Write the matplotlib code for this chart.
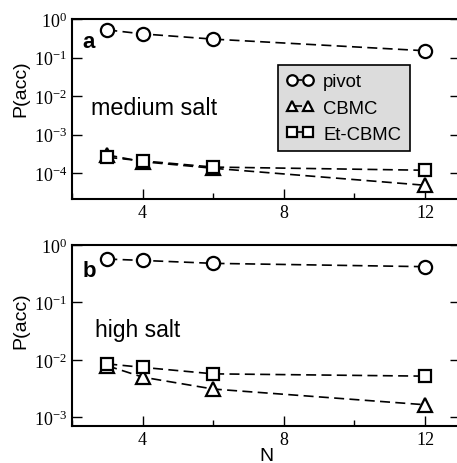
import numpy as np
import matplotlib
matplotlib.use('Agg')
import matplotlib.pyplot as plt

# chain length N
n_vals = [3, 4, 6, 12]

# panel a: medium salt
pivot_med = [0.52, 0.41, 0.30, 0.15]
cbmc_med = [3.0e-4, 2.0e-4, 1.35e-4, 4.9e-5]
etcbmc_med = [2.6e-4, 2.1e-4, 1.45e-4, 1.2e-4]

# panel b: high salt
pivot_high = [0.57, 0.54, 0.48, 0.42]
cbmc_high = [7.9e-3, 5.0e-3, 3.1e-3, 1.65e-3]
etcbmc_high = [8.5e-3, 7.4e-3, 5.7e-3, 5.2e-3]

series_names = ['pivot', 'CBMC', 'Et-CBMC']
series_markers = ['o', '^', 's']

serif = 'Liberation Serif'
sans = 'Liberation Sans'
plt.rcParams['mathtext.fontset'] = 'stix'

fig = plt.figure(figsize=(4.57, 4.64), dpi=100)
ax_a = fig.add_axes([0.1575, 0.569, 0.8497, 0.388])
ax_b = fig.add_axes([0.1575, 0.0787, 0.8497, 0.391])


def draw_panel(ax, data, ylim, yticks):
    for vals, name, mk in zip(data, series_names, series_markers):
        ax.plot(n_vals, vals, linestyle='--', color='black', lw=1.2,
                marker=mk, markersize=9.5 if mk != 's' else 9,
                markerfacecolor='white', markeredgecolor='black',
                markeredgewidth=1.6, label=name, dashes=(6, 3.2))
    ax.set_yscale('log')
    ax.set_xlim(2, 13)
    ax.set_ylim(*ylim)
    ax.set_yticks(yticks)
    ax.yaxis.set_minor_locator(matplotlib.ticker.NullLocator())
    ax.set_xticks([4, 8, 12])
    ax.set_xticks([2, 6, 10], minor=True)
    ax.tick_params(which='both', direction='in', right=True, top=False,
                   labelsize=13, width=1.0)
    ax.tick_params(which='major', length=7)
    ax.tick_params(which='minor', length=4)
    for lab in ax.get_xticklabels() + ax.get_yticklabels():
        lab.set_fontfamily(serif)
    for sp in ax.spines.values():
        sp.set_linewidth(1.5)
    ax.set_ylabel('P(acc)', fontfamily=sans, fontsize=14)


draw_panel(ax_a, [pivot_med, cbmc_med, etcbmc_med], (2.16e-5, 1.0),
           [1e-4, 1e-3, 1e-2, 1e-1, 1e0])
draw_panel(ax_b, [pivot_high, cbmc_high, etcbmc_high], (6.9e-4, 1.0),
           [1e-3, 1e-2, 1e-1, 1e0])
ax_a.yaxis.set_label_coords(-0.11, 0.617)
ax_b.yaxis.set_label_coords(-0.11, 0.587)

ax_a.text(0.026, 0.875, 'a', transform=ax_a.transAxes, fontfamily=sans,
          fontweight='bold', fontsize=16, va='center', ha='left')
ax_b.text(0.028, 0.862, 'b', transform=ax_b.transAxes, fontfamily=sans,
          fontweight='bold', fontsize=16, va='center', ha='left')
ax_a.text(0.048, 0.472, 'medium salt', transform=ax_a.transAxes,
          fontfamily=sans, fontsize=16.8, va='baseline', ha='left')
ax_b.text(0.059, 0.50, 'high salt', transform=ax_b.transAxes,
          fontfamily=sans, fontsize=16.5, va='baseline', ha='left')

leg = ax_a.legend(loc='upper left', bbox_to_anchor=(0.5305, 0.744),
                  numpoints=2, markerscale=0.8, handlelength=1.5,
                  handletextpad=0.5, borderpad=0.45, labelspacing=0.5,
                  frameon=True, fancybox=False,
                  prop={'family': sans, 'size': 13.3}, borderaxespad=0)
leg.get_frame().set_facecolor('#dcdcdc')
leg.get_frame().set_edgecolor('black')
leg.get_frame().set_linewidth(1.2)
leg.get_frame().set_alpha(1)

ax_b.set_xlabel('N', fontfamily=sans, fontsize=14, labelpad=-1)

fig.savefig('out.png', dpi=100)
